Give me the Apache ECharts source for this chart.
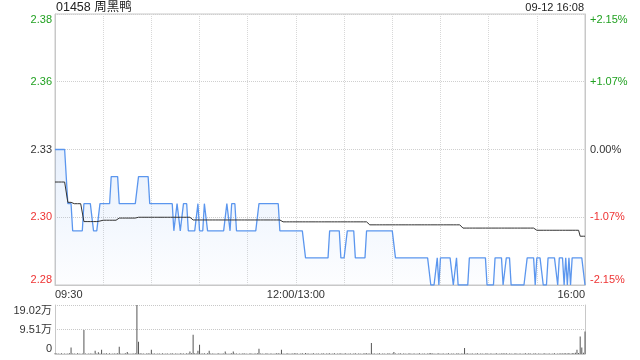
<!DOCTYPE html>
<html><head><meta charset="utf-8">
<script src="https://cdn.jsdelivr.net/npm/echarts@6/dist/echarts.min.js"></script>
<style>html,body{margin:0;padding:0;background:#fff}#c{width:640px;height:360px}</style>
</head><body><div id="c"></div>
<script>
const titleText = '01458 周黑鸭';
const stampText = '09-12 16:08';
const priceTickLabels = ['2.28', '2.30', '2.33', '2.36', '2.38'];
const pctTickLabels = ['-2.15%', '-1.07%', '0.00%', '+1.07%', '+2.15%'];
const volTickLabels = ['0', '9.51万', '19.02万'];
const timeTickLabels = {0: '09:30', 150: '12:00/13:00', 330: '16:00'};

const price = [
2.33,2.33,2.33,2.33,2.33,2.33,2.33,2.33,2.31,2.31,2.31,2.30,2.30,2.30,2.30,2.30,2.30,2.30,2.31,2.31,2.31,2.31,2.31,2.31,2.30,2.30,2.30,2.30,2.31,2.31,
2.31,2.31,2.31,2.31,2.31,2.32,2.32,2.32,2.32,2.32,2.31,2.31,2.31,2.31,2.31,2.31,2.31,2.31,2.31,2.31,2.31,2.31,2.32,2.32,2.32,2.32,2.32,2.32,2.32,2.31,
2.31,2.31,2.31,2.31,2.31,2.31,2.31,2.31,2.31,2.31,2.31,2.31,2.31,2.31,2.30,2.30,2.31,2.31,2.30,2.30,2.31,2.31,2.31,2.30,2.30,2.30,2.30,2.30,2.30,2.31,
2.30,2.30,2.30,2.31,2.31,2.30,2.30,2.30,2.30,2.30,2.30,2.30,2.30,2.30,2.30,2.30,2.30,2.31,2.31,2.30,2.31,2.31,2.31,2.30,2.30,2.30,2.30,2.30,2.30,2.30,
2.30,2.30,2.30,2.30,2.30,2.30,2.30,2.31,2.31,2.31,2.31,2.31,2.31,2.31,2.31,2.31,2.31,2.31,2.31,2.31,2.30,2.30,2.30,2.30,2.30,2.30,2.30,2.30,2.30,2.30,
2.30,2.30,2.30,2.30,2.30,2.30,2.29,2.29,2.29,2.29,2.29,2.29,2.29,2.29,2.29,2.29,2.29,2.29,2.29,2.29,2.29,2.30,2.30,2.30,2.30,2.30,2.30,2.30,2.29,2.29,
2.29,2.29,2.30,2.30,2.30,2.30,2.30,2.29,2.29,2.29,2.29,2.29,2.29,2.29,2.30,2.30,2.30,2.30,2.30,2.30,2.30,2.30,2.30,2.30,2.30,2.30,2.30,2.30,2.30,2.30,
2.30,2.30,2.29,2.29,2.29,2.29,2.29,2.29,2.29,2.29,2.29,2.29,2.29,2.29,2.29,2.29,2.29,2.29,2.29,2.29,2.29,2.29,2.29,2.29,2.28,2.28,2.28,2.28,2.29,2.28,
2.29,2.29,2.29,2.29,2.29,2.29,2.29,2.29,2.28,2.28,2.29,2.28,2.28,2.28,2.28,2.28,2.28,2.28,2.29,2.29,2.29,2.29,2.29,2.29,2.29,2.29,2.29,2.29,2.29,2.28,
2.28,2.28,2.28,2.28,2.29,2.29,2.29,2.29,2.29,2.28,2.28,2.29,2.29,2.29,2.28,2.28,2.28,2.28,2.28,2.28,2.28,2.28,2.28,2.28,2.29,2.29,2.29,2.29,2.29,2.28,
2.29,2.29,2.29,2.29,2.28,2.28,2.28,2.29,2.29,2.29,2.29,2.29,2.29,2.28,2.29,2.29,2.29,2.28,2.29,2.28,2.29,2.28,2.29,2.29,2.29,2.29,2.29,2.29,2.29,2.29,
2.28
];

const avgPrice = [
2.318,2.318,2.318,2.318,2.318,2.318,2.318,2.318,2.3105,2.3105,2.3105,2.310,2.310,2.310,2.310,2.310,2.310,2.310,2.3034,2.3034,2.3034,2.3034,2.3034,2.3034,2.3034,2.3034,2.3034,2.3034,2.3036,2.3036,
2.3039,2.3039,2.3039,2.3039,2.3039,2.3039,2.3039,2.3039,2.3039,2.3039,2.3047,2.3047,2.3047,2.3047,2.3047,2.3047,2.3047,2.3047,2.3047,2.3047,2.3047,2.3042,2.305,2.305,2.305,2.305,2.305,2.305,2.305,2.305,
2.305,2.305,2.305,2.305,2.305,2.305,2.305,2.305,2.305,2.305,2.305,2.305,2.305,2.305,2.305,2.305,2.305,2.305,2.305,2.305,2.305,2.305,2.305,2.305,2.305,2.305,2.304,2.304,2.304,2.304,
2.304,2.304,2.304,2.304,2.304,2.304,2.304,2.304,2.304,2.304,2.304,2.304,2.304,2.304,2.304,2.304,2.304,2.304,2.304,2.304,2.304,2.304,2.304,2.304,2.304,2.304,2.304,2.304,2.304,2.304,
2.304,2.304,2.304,2.304,2.304,2.304,2.304,2.304,2.304,2.304,2.304,2.304,2.304,2.304,2.304,2.304,2.304,2.304,2.304,2.304,2.304,2.3033,2.3033,2.3033,2.3033,2.3033,2.3033,2.3033,2.3033,2.3033,
2.3033,2.3033,2.3033,2.3033,2.3033,2.3033,2.3033,2.3033,2.3033,2.3033,2.3033,2.3033,2.3033,2.3033,2.3033,2.3033,2.3033,2.3033,2.3033,2.3033,2.3033,2.3033,2.3033,2.3033,2.3033,2.3033,2.3033,2.3033,2.3033,2.3033,
2.3033,2.3033,2.3033,2.3033,2.3033,2.3033,2.3033,2.3033,2.3033,2.3033,2.3033,2.3033,2.3033,2.3033,2.3033,2.3033,2.3022,2.3022,2.3022,2.3022,2.3022,2.3022,2.3022,2.3022,2.3022,2.3022,2.3022,2.3022,2.3022,2.3022,
2.3022,2.3022,2.3022,2.3022,2.3022,2.3022,2.3022,2.3022,2.3022,2.3022,2.3022,2.3022,2.3022,2.3022,2.3022,2.3022,2.3022,2.3022,2.3022,2.3022,2.3022,2.3022,2.3022,2.3022,2.3022,2.3022,2.3022,2.3022,2.3022,2.3022,
2.3022,2.3022,2.3022,2.3022,2.3022,2.3022,2.3022,2.3022,2.3022,2.3022,2.3022,2.3022,2.3022,2.3022,2.301,2.301,2.301,2.301,2.301,2.301,2.301,2.301,2.301,2.301,2.301,2.301,2.301,2.301,2.301,2.301,
2.301,2.301,2.301,2.301,2.301,2.301,2.301,2.301,2.301,2.301,2.301,2.301,2.301,2.301,2.301,2.301,2.301,2.301,2.301,2.301,2.301,2.301,2.301,2.301,2.301,2.301,2.301,2.301,2.301,2.301,
2.3002,2.3002,2.3002,2.3002,2.3002,2.3002,2.3002,2.3002,2.3002,2.3002,2.3002,2.3002,2.3002,2.3002,2.3002,2.3002,2.3002,2.3002,2.3002,2.3002,2.3002,2.3002,2.3002,2.3002,2.3002,2.3002,2.3002,2.298,2.298,2.298,
2.298
];

const volume = [
3000,1500,2000,1000,2500,1200,1800,1000,2200,3000,25700,2000,1500,1000,2500,1800,1200,2000,93000,1500,1000,2200,1500,1800,1000,12900,2000,6400,1500,16700,
2000,1500,3000,1200,2500,1000,1800,2200,1500,3000,28300,2000,1200,1500,2500,7700,1800,1000,2000,1500,3000,190200,47500,2500,1500,2000,1000,1800,2500,1500,
16700,2000,1500,1000,2200,1800,1200,2500,1000,1500,2000,1200,1800,2500,1000,1500,2000,1200,3000,1500,2000,1000,2500,1800,10000,3000,74500,2500,1500,12900,
36000,2000,1500,3000,1200,2500,12900,1800,1500,2000,1200,1800,2500,1000,2000,1500,10000,2000,1200,1800,2500,10000,1500,2000,1200,1800,1000,2500,1500,2000,
1200,1800,2500,1000,2000,1500,3000,20500,2000,1500,1200,1800,2500,1000,2000,1500,1200,1800,2500,3000,2000,16700,1500,1200,1800,2500,1000,2000,1500,2500,
3000,1500,1200,1800,2500,1000,4000,2000,1500,1200,1800,2500,1000,2000,1500,1200,1800,2500,1000,2000,1500,3000,1200,1800,2500,1000,2000,1500,2500,1200,
1800,2500,1000,2000,1500,1200,1800,2500,1000,2000,1500,1200,1800,2500,3000,2000,1500,42400,2000,1500,1200,1800,2500,1000,2000,1500,1200,1800,2500,1000,
2000,7700,1500,1200,1800,2500,1000,2000,1500,1200,1800,2500,1000,2000,1500,1200,1800,2500,1000,2000,1500,1200,1800,2500,3500,2000,1500,1200,1800,2500,
1000,2000,1500,1200,1800,2500,1000,2000,1500,1200,1800,2500,1000,2000,1500,23100,1800,2500,1000,2000,1500,1200,1800,2500,1000,2000,1500,1200,1800,2500,
1000,2000,1500,1200,1800,2500,1000,2000,1500,3000,1800,2500,1000,2000,1500,1200,1800,2500,1000,2000,1500,1200,1800,2500,1000,3000,1500,1200,1800,2500,
1000,2000,1500,1200,1800,2500,1000,2000,1500,1200,1800,2500,1000,2000,1500,3000,1800,2500,3000,2000,4000,1200,3500,2500,5000,16700,4000,68000,25700,5000,
87400
];

// time categories: 09:30-12:00 and 13:01-16:00
const times = [];
function pad(n) { return (n < 10 ? '0' : '') + n; }
for (let m = 9 * 60 + 30; m <= 12 * 60; m++) times.push(pad(Math.floor(m / 60)) + ':' + pad(m % 60));
for (let m = 13 * 60 + 1; m <= 16 * 60; m++) times.push(pad(Math.floor(m / 60)) + ':' + pad(m % 60));

const GREEN = '#21a121', RED = '#ee3333', DARK = '#333';
const FONT = '"Liberation Sans", Arial, "Noto Sans CJK SC", sans-serif';
const pMin = 2.28, pMax = 2.38, pStep = 0.025;
function tickIndex(v) { return Math.round((v - pMin) / pStep); }
function colorKey(i) { return i > 2 ? 'g' : (i < 2 ? 'r' : 'k'); }
const richCols = {
  g: {color: GREEN, fontSize: 11, fontFamily: FONT},
  r: {color: RED, fontSize: 11, fontFamily: FONT},
  k: {color: DARK, fontSize: 11, fontFamily: FONT}
};

const chart = echarts.init(document.getElementById('c'), null, {renderer: 'canvas'});
chart.setOption({
  animation: false,
  backgroundColor: '#fff',
  textStyle: {fontFamily: FONT},
  title: [
    {text: titleText, left: 56, top: 1, padding: 0,
     textStyle: {fontSize: 12.5, fontWeight: 'normal', color: '#222', fontFamily: FONT}},
    {text: stampText, right: 56, top: 2, padding: 0,
     textStyle: {fontSize: 11, fontWeight: 'normal', color: '#222', fontFamily: FONT}}
  ],
  grid: [
    {left: 55, right: 55, top: 14, height: 271, show: true, borderColor: '#c8c8c8', borderWidth: 1},
    {left: 55, right: 55, top: 305, height: 49, show: false}
  ],
  xAxis: [
    {type: 'category', gridIndex: 0, data: times, boundaryGap: false,
     axisLine: {show: true, lineStyle: {color: '#c8c8c8'}},
     axisTick: {show: false},
     axisLabel: {
       interval: function (i) { return timeTickLabels[i] !== undefined; },
       formatter: function (v, i) { return timeTickLabels[i] || ''; },
       color: DARK, fontSize: 11, margin: 4, fontFamily: FONT,
       alignMinLabel: 'left', alignMaxLabel: 'right'
     },
     splitLine: {show: true, interval: function (i) { return i % 30 === 0; },
       lineStyle: {color: '#d8d8d8', type: 'dotted'}}
    },
    {type: 'category', gridIndex: 1, data: times, boundaryGap: false,
     axisLine: {show: true, lineStyle: {color: '#c8c8c8'}},
     axisTick: {show: false}, axisLabel: {show: false}, splitLine: {show: false}
    }
  ],
  yAxis: [
    {type: 'value', gridIndex: 0, min: pMin, max: pMax, interval: pStep, position: 'left',
     axisLine: {show: true, lineStyle: {color: '#c8c8c8'}}, axisTick: {show: false},
     splitLine: {show: true, lineStyle: {color: '#cfcfcf', type: 'dotted'}},
     axisLabel: {margin: 3, verticalAlignMinLabel: 'bottom', verticalAlignMaxLabel: 'top',
       formatter: function (v) { const i = tickIndex(v); return '{' + colorKey(i) + '|' + priceTickLabels[i] + '}'; },
       rich: richCols}
    },
    {type: 'value', gridIndex: 0, min: pMin, max: pMax, interval: pStep, position: 'right',
     axisLine: {show: true, lineStyle: {color: '#c8c8c8'}}, axisTick: {show: false},
     splitLine: {show: false},
     axisLabel: {margin: 5, verticalAlignMinLabel: 'bottom', verticalAlignMaxLabel: 'top',
       formatter: function (v) { const i = tickIndex(v); return '{' + colorKey(i) + '|' + pctTickLabels[i] + '}'; },
       rich: richCols}
    },
    {type: 'value', gridIndex: 1, min: 0, max: 190200, interval: 95100, position: 'left',
     axisLine: {show: true, lineStyle: {color: '#c8c8c8'}}, axisTick: {show: false},
     splitLine: {show: true, lineStyle: {color: '#c8c8c8', type: 'dotted'}},
     axisLabel: {margin: 3, color: DARK, fontSize: 11, fontFamily: FONT,
       verticalAlignMinLabel: 'bottom', verticalAlignMaxLabel: 'top',
       formatter: function (v) { return volTickLabels[Math.round(v / 95100)]; }}
    },
    {type: 'value', gridIndex: 1, min: 0, max: 190200, interval: 95100, position: 'right',
     axisLine: {show: true, lineStyle: {color: '#c8c8c8'}}, axisTick: {show: false},
     splitLine: {show: false}, axisLabel: {show: false}
    }
  ],
  series: [
    {type: 'line', name: 'price', xAxisIndex: 0, yAxisIndex: 0, data: price,
     showSymbol: false, symbol: 'none',
     lineStyle: {color: '#5b96ee', width: 1.3},
     areaStyle: {color: new echarts.graphic.LinearGradient(0, 0, 0, 1, [
       {offset: 0, color: 'rgba(91,150,238,0.20)'},
       {offset: 1, color: 'rgba(91,150,238,0.02)'}
     ])}
    },
    {type: 'line', name: 'avg', xAxisIndex: 0, yAxisIndex: 0, data: avgPrice,
     showSymbol: false, symbol: 'none', lineStyle: {color: '#333', width: 1}},
    {type: 'bar', name: 'vol', xAxisIndex: 1, yAxisIndex: 2, data: volume,
     barWidth: 1, itemStyle: {color: '#555'}}
  ]
});
</script>
</body></html>
